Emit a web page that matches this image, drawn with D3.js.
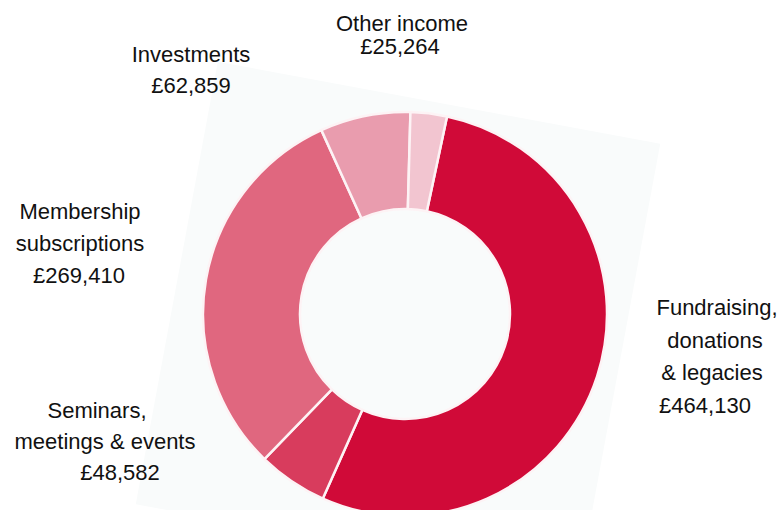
<!DOCTYPE html>
<html>
<head>
<meta charset="utf-8">
<script src="https://cdn.jsdelivr.net/npm/d3@7"></script>
<style>
  body { margin: 0; background: #fff; }
  svg { display: block; }
  text { font-family: "Liberation Sans", Arial, Helvetica, sans-serif; fill: #111; }
</style>
</head>
<body>
<svg id="canvas" width="780" height="510"></svg>
<script>
// income categories, clockwise from just right of 12 o'clock
let categories = ['Fundraising, donations & legacies', 'Seminars, meetings & events', 'Membership subscriptions', 'Investments', 'Other income']
let amounts = [464130, 48582, 269410, 62859, 25264]
let labelLines = [
    ['Fundraising,', 'donations', '& legacies', '£464,130'],
    ['Seminars,', 'meetings & events', '£48,582'],
    ['Membership', 'subscriptions', '£269,410'],
    ['Investments', '£62,859'],
    ['Other income', '£25,264']
]
let colors = ['#d00a38', '#d83c5d', '#e0677f', '#e99cae', '#f2c5d0']

// where each label block goes (x of centre, baseline of first line, line gap, per-line x nudges)
let labelPos = [
    {x: 715, y: 315, gap: 32.5, dx: [2, 0, -3, -10]},
    {x: 105, y: 418, gap: 31, dx: [-8, 0, 15]},
    {x: 80, y: 219, gap: 32, dx: [0, 0, -1]},
    {x: 191, y: 62, gap: 31, dx: [0, 0]},
    {x: 402, y: 31, gap: 23, dx: [0, -2]}
]

let svg = d3.select('#canvas')

let cx = 405
let cy = 314
let outerR = 202
let innerR = 105

// faint tilted backdrop card behind the ring
svg.append('rect')
   .attr('x', -225)
   .attr('y', -225)
   .attr('width', 450)
   .attr('height', 450)
   .attr('fill', '#f9fbfb')
   .attr('transform', 'translate(398,324) rotate(10.5)')

let start = 12 * Math.PI / 180

let pie = d3.pie()
            .sort(null)
            .startAngle(start)
            .endAngle(start + 2 * Math.PI)

let arc = d3.arc()
            .innerRadius(innerR)
            .outerRadius(outerR)

let data = amounts.map((v, i) => ({name: categories[i], value: v, color: colors[i]}))

let g = svg.append('g')
           .attr('transform', 'translate(' + cx + ',' + cy + ')')

g.selectAll('path')
 .data(pie.value((d) => d.value)(data))
 .enter()
 .append('path')
 .attr('d', arc)
 .attr('fill', (d) => d.data.color)
 .attr('stroke', '#fdf3f5')
 .attr('stroke-width', 2.5)
 .attr('stroke-linejoin', 'round')

// labels
labelLines.forEach((lines, i) => {
    let p = labelPos[i]
    let t = svg.append('text')
               .attr('text-anchor', 'middle')
               .attr('font-size', 22)
    lines.forEach((line, j) => {
        t.append('tspan')
         .attr('x', p.x + p.dx[j])
         .attr('y', p.y + j * p.gap)
         .text(line)
    })
})
</script>
</body>
</html>
